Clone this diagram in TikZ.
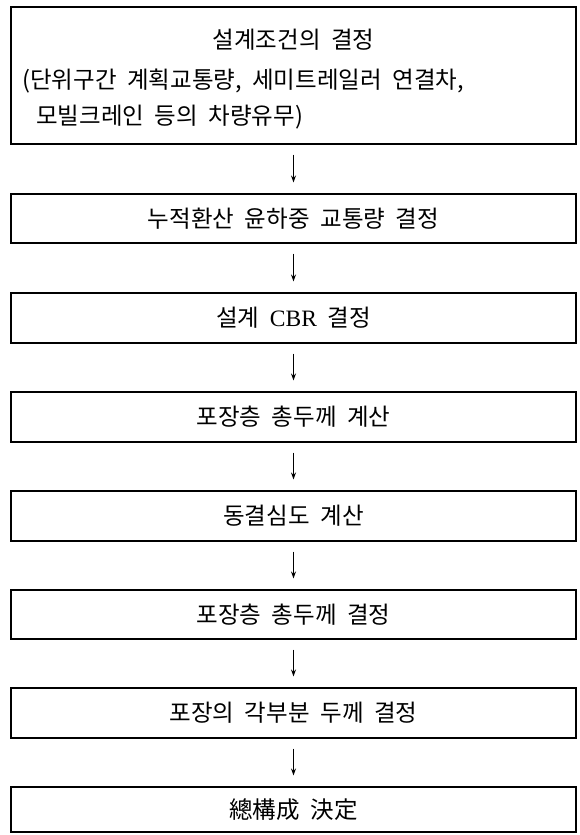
\documentclass[tikz,border=0pt]{standalone}
\usepackage{fontspec}
\setmainfont{Liberation Serif}
\newfontfamily\kr[WordSpace=2.0]{Noto Sans CJK KR}
\usetikzlibrary{arrows.meta}
\begin{document}
\begin{tikzpicture}[x=1pt,y=1pt,
  box/.style={draw=black, line width=1.1pt, minimum width=565pt, inner sep=0pt, font=\kr\fontsize{23.5}{26}\selectfont},
  txt/.style={inner sep=0pt, font=\kr\fontsize{23.5}{26}\selectfont},
  arr/.style={line width=0.8pt, -{Stealth[length=7pt,width=5pt]}, shorten <=10pt, shorten >=11pt}]
\useasboundingbox (0,0) rectangle (579,-835);
\node[box, minimum height=137pt] (b1) at (293.5,-75.5) {};
\node[txt] (t1a) at (293.5,-40) {설계조건의 결정};
\node[txt, anchor=west] (t1b) at (22,-81) {(단위구간 계획교통량, 세미트레일러 연결차,};
\node[txt, anchor=west] (t1c) at (36,-117) {모빌크레인 등의 차량유무)};
\node[box, minimum height=49pt] (b2) at (293.5,-218.5) {누적환산 윤하중 교통량 결정};
\node[box, minimum height=50pt] (b3) at (293.5,-318) {설계 {\rmfamily CBR} 결정};
\node[box, minimum height=50pt] (b4) at (293.5,-417) {포장층 총두께 계산};
\node[box, minimum height=50pt] (b5) at (293.5,-516) {동결심도 계산};
\node[box, minimum height=49pt] (b6) at (293.5,-614.5) {포장층 총두께 결정};
\node[box, minimum height=50pt] (b7) at (293.5,-713) {포장의 각부분 두께 결정};
\node[box, minimum height=45pt] (b8) at (293.5,-809.5) {總構成 決定};
\draw[arr] (b1.south) -- (b2.north);
\draw[arr] (b2.south) -- (b3.north);
\draw[arr] (b3.south) -- (b4.north);
\draw[arr] (b4.south) -- (b5.north);
\draw[arr] (b5.south) -- (b6.north);
\draw[arr] (b6.south) -- (b7.north);
\draw[arr] (b7.south) -- (b8.north);
\end{tikzpicture}
\end{document}
